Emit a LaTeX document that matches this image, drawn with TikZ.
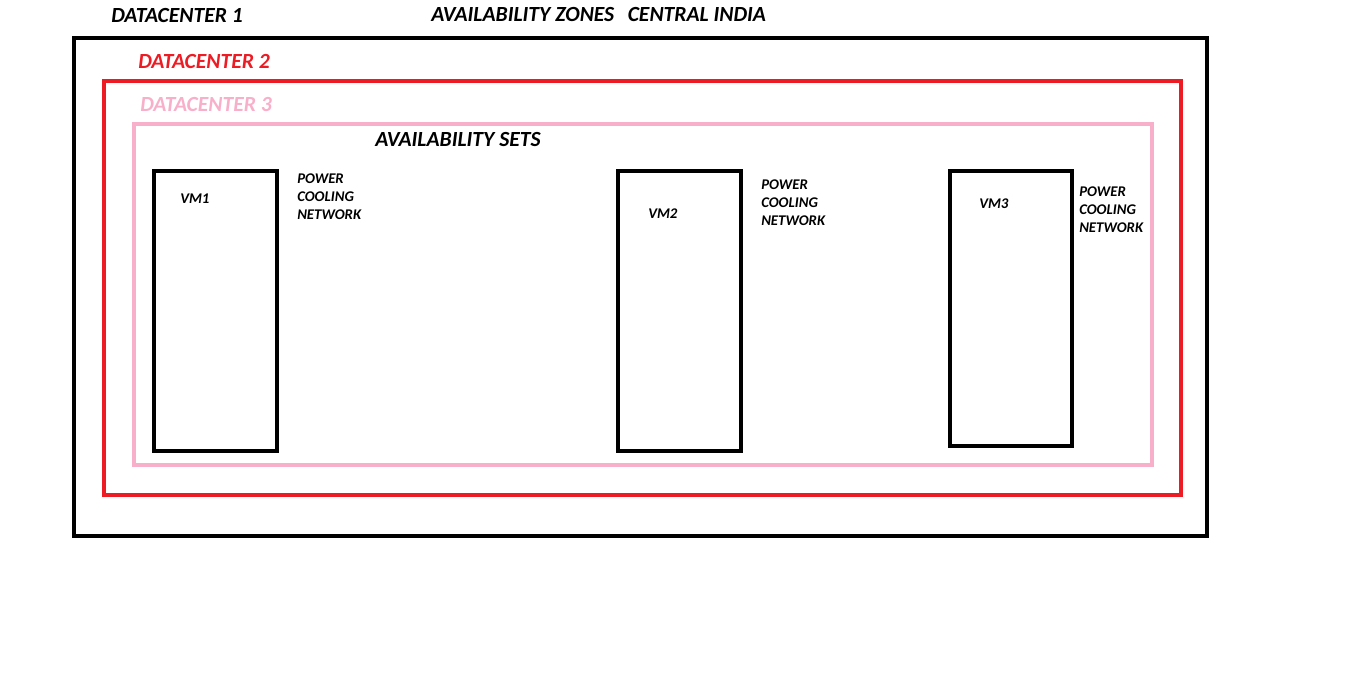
\documentclass[tikz,border=0pt]{standalone}
\usepackage{fontspec}
\setmainfont{Carlito}
\usetikzlibrary{positioning}

\definecolor{dcred}{RGB}{237,28,36}
\definecolor{dcpink}{RGB}{248,176,202}

\begin{document}
\begin{tikzpicture}[
    x=0.75pt, y=-0.75pt,
    zonebox/.style={line width=3pt},
    vmbox/.style={draw, line width=3pt, minimum width=123*0.75pt, anchor=north west, inner sep=0pt, outer sep=0pt},
    title/.style={anchor=west, inner sep=0pt, font=\fontsize{16.2}{19}\selectfont\bfseries\itshape},
    small/.style={anchor=west, inner sep=0pt, font=\fontsize{11.1}{13.5}\selectfont\bfseries\itshape, align=left}
]
\useasboundingbox (0,0) rectangle (1360,687);

% Zone frames
\draw[zonebox, black] (74,38) rectangle (1207,536);
\draw[zonebox, dcred] (104,81) rectangle (1181,495);
\draw[zonebox, dcpink] (134,124) rectangle (1152,465);

% Headings
\node[title] (dcone) at (111,15) {DATACENTER 1};
\node[title] (zones) at (431,14) {AVAILABILITY ZONES};
\node[title, right=13*0.75pt of zones] (region) {CENTRAL INDIA};
\node[title, text=dcred] (dctwo) at (138,61) {DATACENTER 2};
\node[title, text=dcpink] (dcthree) at (140,104) {DATACENTER 3};
\node[title] (sets) at (375,139) {AVAILABILITY SETS};

% Virtual machines
\node[vmbox, minimum height=280*0.75pt] (vmone) at (154,171) {};
\node[vmbox, minimum height=280*0.75pt] (vmtwo) at (618,171) {};
\node[vmbox, minimum height=275*0.75pt, minimum width=122*0.75pt] (vmthree) at (950,171) {};

\node[small] (vmonelbl) at (180,199) {VM1};
\node[small] (vmtwolbl) at (648,214) {VM2};
\node[small] (vmthreelbl) at (979,204) {VM3};

% Shared infrastructure
\node[small] (infraone) at (297,197) {POWER\\COOLING\\NETWORK};
\node[small] (infratwo) at (761,203) {POWER\\COOLING\\NETWORK};
\node[small] (infrathree) at (1079,210) {POWER\\COOLING\\NETWORK};

\end{tikzpicture}
\end{document}
